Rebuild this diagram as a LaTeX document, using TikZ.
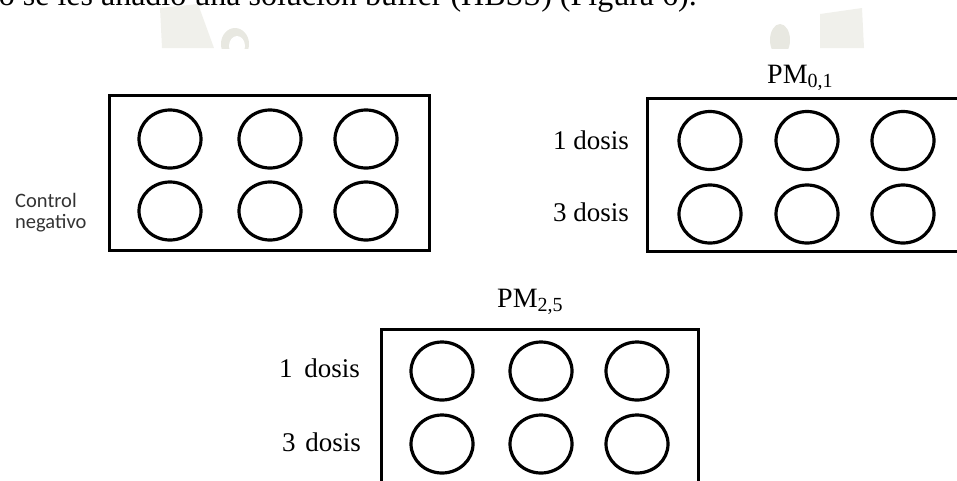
\documentclass[tikz,border=0pt]{standalone}
\usepackage{fontspec}
\setmainfont{Liberation Serif}
\newfontfamily\calib{Carlito}
\usetikzlibrary{shapes.geometric}
\definecolor{wm}{RGB}{240,240,235}
\definecolor{wmd}{RGB}{232,232,225}
\tikzset{
  well/.style={draw=black, line width=3.2pt, ellipse, minimum width=62pt, minimum height=58pt, inner sep=0pt},
  plate/.style={draw=black, line width=3.4pt},
  lbl/.style={inner sep=0pt, font=\fontsize{27}{30}\selectfont, text=black},
  ctl/.style={inner sep=0pt, align=left, font=\calib\fontsize{20.5}{20.5}\selectfont, text=black!80},
  pm/.style={inner sep=0pt, font=\fontsize{28}{30}\selectfont},
}
\newcommand{\subpm}[1]{\raisebox{-4pt}{\fontsize{20}{21}\selectfont #1}}
\begin{document}
\begin{tikzpicture}[x=1pt,y=-1pt]
\useasboundingbox (0,0) rectangle (957,480);
\clip (0,0) rectangle (957,480);
% faint watermarks
\begin{scope}
\clip (0,0) rectangle (957,48);
\fill[wm] (160,8) -- (198,4) -- (214,48) -- (162,48) -- cycle;
\fill[wmd] (235,44) ellipse [x radius=14, y radius=16];
\fill[white] (237,46) ellipse [x radius=8, y radius=10];
\fill[wmd] (780,40) ellipse [x radius=10, y radius=16];
\fill[wm] (820,14) -- (862,8) -- (864,48) -- (820,48) -- cycle;
\end{scope}
% cut-off text line at the top (cut in the reference as well)
\node[inner sep=0pt, anchor=base east, font=\fontsize{32}{34}\selectfont] (top) at (697,5.5) {o se les añadió una solución buffer (HBSS) (Figura 6).};
% left plate: negative control
\draw[plate] (109.5,95.5) rectangle (429.5,250.5);
\node[well] (c11) at (170,139) {};
\node[well] (c12) at (270,139) {};
\node[well] (c13) at (366,139) {};
\node[well] (c21) at (170,211) {};
\node[well] (c22) at (270,211) {};
\node[well] (c23) at (366,211) {};
\node[ctl, anchor=south west] (ctl) at (15,232) {Control\\negativo};
% right plate: PM0,1
\draw[plate] (647.5,98.5) rectangle (990,251.5);
\node[well] (a11) at (710,140.5) {};
\node[well] (a12) at (807,140.5) {};
\node[well] (a13) at (903,140.5) {};
\node[well] (a21) at (710,214) {};
\node[well] (a22) at (807,214) {};
\node[well] (a23) at (903,214) {};
\node[pm, anchor=base west] (pma) at (767,83) {PM\subpm{0,1}};
\node[lbl, anchor=base east] (a1) at (629,149) {1 dosis};
\node[lbl, anchor=base east] (a3) at (629,221) {3 dosis};
% bottom plate: PM2,5
\draw[plate] (381.5,329.5) rectangle (698.5,520);
\node[well] (b11) at (442,371) {};
\node[well] (b12) at (541,371) {};
\node[well] (b13) at (637,371) {};
\node[well] (b21) at (442,444) {};
\node[well] (b22) at (541,444) {};
\node[well] (b23) at (637,444) {};
\node[pm, anchor=base west] (pmb) at (497,307) {PM\subpm{2,5}};
\node[lbl, anchor=base east] (b1) at (360,377) {1\hspace{5pt} dosis};
\node[lbl, anchor=base east] (b3) at (361,451) {3\hspace{3pt} dosis};
\end{tikzpicture}
\end{document}
